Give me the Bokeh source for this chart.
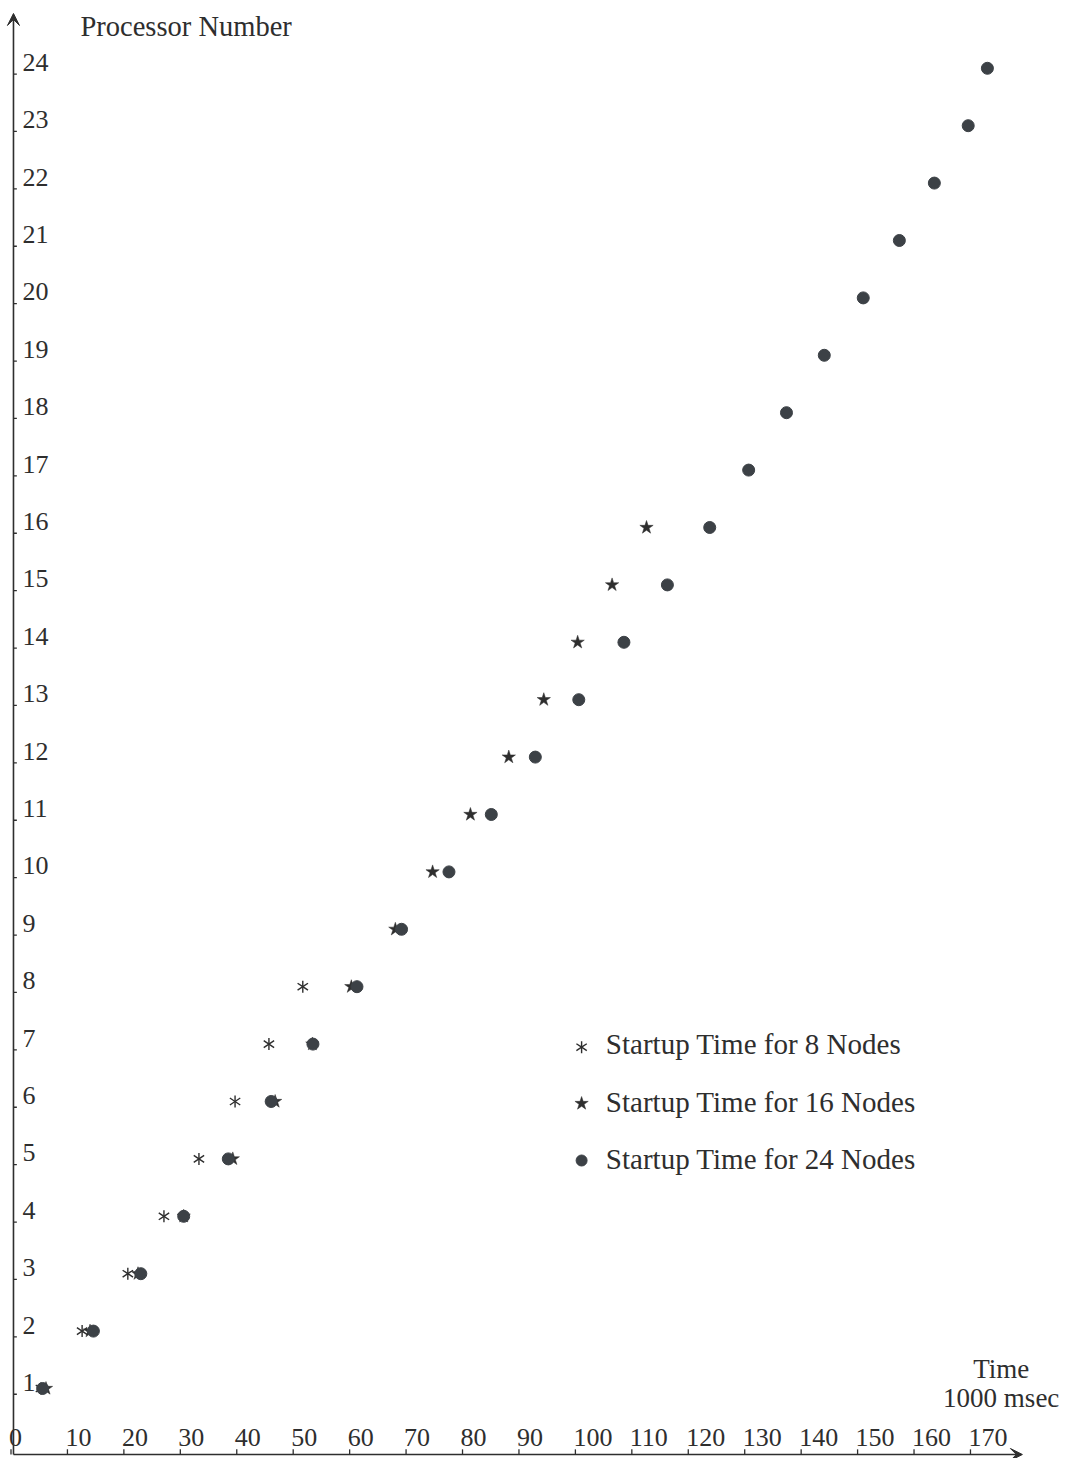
import numpy as np
from bokeh.plotting import figure
from bokeh.models import Range1d, Arrow, VeeHead
from bokeh.core.properties import value
from bokeh.embed import file_html
from bokeh.resources import INLINE

# ---- data (time in units of 1000 msec) ----
processors_8 = [1, 2, 3, 4, 5, 6, 7, 8]
time_8 = [5.3, 12.6, 20.7, 27.1, 33.3, 39.7, 45.7, 51.7]

processors_16 = [1, 2, 3, 4, 5, 6, 7, 8, 9, 10, 11, 12, 13, 14, 15, 16]
time_16 = [6.2, 14.0, 22.5, 30.6, 39.3, 46.8, 53.4, 60.3, 68.1, 74.7,
           81.4, 88.2, 94.4, 100.4, 106.5, 112.6]

processors_24 = [1, 2, 3, 4, 5, 6, 7, 8, 9, 10, 11, 12, 13, 14, 15, 16,
                 17, 18, 19, 20, 21, 22, 23, 24]
time_24 = [5.6, 14.6, 23.0, 30.6, 38.5, 46.1, 53.5, 61.3, 69.2, 77.6,
           85.1, 92.9, 100.6, 108.6, 116.3, 123.8, 130.7, 137.4, 144.1,
           151.0, 157.4, 163.6, 169.6, 173.0]

x_ticks = [0, 10, 20, 30, 40, 50, 60, 70, 80, 90, 100, 110, 120, 130, 140,
           150, 160, 170]
x_tick_labels = ["0", "10", "20", "30", "40", "50", "60", "70", "80", "90",
                 "100", "110", "120", "130", "140", "150", "160", "170"]
y_ticks = [1, 2, 3, 4, 5, 6, 7, 8, 9, 10, 11, 12, 13, 14, 15, 16, 17, 18,
           19, 20, 21, 22, 23, 24]
y_tick_labels = ["1", "2", "3", "4", "5", "6", "7", "8", "9", "10", "11",
                 "12", "13", "14", "15", "16", "17", "18", "19", "20", "21",
                 "22", "23", "24"]

series_labels = ["Startup Time for 8 Nodes", "Startup Time for 16 Nodes",
                 "Startup Time for 24 Nodes"]
y_axis_title = "Processor Number"
x_axis_title = ["Time", "1000 msec"]

# ---- styling / layout ----
INK = "#2e2e2e"
DOT = "#3c4146"
FONT = "Liberation Serif"

AX = 0.44     # x position of the vertical axis (data units)
AY = -0.15    # y position of the horizontal axis (data units)

# legend placement (data units)
LEG_X = 101.1
LEG_TEXT_X = 105.4
LEG_Y = [6.946, 5.965, 4.972]
LEG_TEXT_Y = [6.993, 5.999, 5.006]

p = figure(width=1064, height=1458,
           x_range=Range1d(-1.860, 186.66), y_range=Range1d(-0.2195, 25.181),
           output_backend="svg", toolbar_location=None,
           x_axis_type=None, y_axis_type=None, min_border=0,
           outline_line_color=None, background_fill_color="white",
           border_fill_color="white")

# axes with arrow heads
p.add_layout(Arrow(end=VeeHead(size=12, line_color=INK, fill_color=INK, line_width=1),
                   x_start=AX, y_start=AY, x_end=179.2, y_end=AY,
                   line_color=INK, line_width=1.6))
p.add_layout(Arrow(end=VeeHead(size=12, line_color=INK, fill_color=INK, line_width=1),
                   x_start=AX, y_start=AY, x_end=AX, y_end=24.955,
                   line_color=INK, line_width=1.6))

# tick marks
nx = len(x_ticks)
p.segment(x0=x_ticks, y0=[AY] * nx, x1=x_ticks, y1=[AY + 0.09] * nx,
          line_color=INK, line_width=1.3)
ny = len(y_ticks)
p.segment(x0=[AX] * ny, y0=[v - 0.1 for v in y_ticks],
          x1=[AX + 0.6] * ny, y1=[v - 0.1 for v in y_ticks],
          line_color=INK, line_width=1.3)

# tick labels
p.text(x=x_ticks, y=[0.152] * nx, text=x_tick_labels, text_align="left",
       text_baseline="middle", x_offset=-2,
       text_font=value(FONT), text_font_size="26px", text_color=INK)
p.text(x=[AX] * ny, y=y_ticks, text=y_tick_labels, text_align="left",
       text_baseline="middle", x_offset=9, y_offset=-6,
       text_font=value(FONT), text_font_size="26px", text_color=INK)

# axis titles
p.text(x=[12.31], y=[24.728], text=[y_axis_title], text_align="left",
       text_baseline="middle", text_font=value(FONT),
       text_font_size="28.5px", text_color=INK)
p.text(x=[175.45, 175.45], y=[1.348, 0.843], text=x_axis_title,
       text_align="center", text_baseline="middle",
       text_font=value(FONT), text_font_size="27px", text_color=INK)

# data series (asterisk = two rotated "y" markers -> six arms)
p.scatter(time_8, processors_8, marker="y", size=12, angle=0,
          line_color=INK, line_width=1.4)
p.scatter(time_8, processors_8, marker="y", size=12, angle=np.pi,
          line_color=INK, line_width=1.4)
p.scatter(time_16, processors_16, marker="star", size=14,
          fill_color=INK, line_color=INK, line_width=0.5)
p.scatter(time_24, processors_24, marker="circle", size=12,
          fill_color=DOT, line_color=DOT)

# legend (drawn in data space, as in the original figure)
p.scatter([LEG_X], [LEG_Y[0]], marker="y", size=12, angle=0,
          line_color=INK, line_width=1.4)
p.scatter([LEG_X], [LEG_Y[0]], marker="y", size=12, angle=np.pi,
          line_color=INK, line_width=1.4)
p.scatter([LEG_X], [LEG_Y[1]], marker="star", size=14,
          fill_color=INK, line_color=INK, line_width=0.5)
p.scatter([LEG_X], [LEG_Y[2]], marker="circle", size=11,
          fill_color=DOT, line_color=DOT)
p.text(x=[LEG_TEXT_X] * 3, y=LEG_TEXT_Y, text=series_labels,
       text_align="left", text_baseline="middle",
       text_font=value(FONT), text_font_size="29px", text_color=INK)

open("out.html", "w").write(file_html(p, INLINE))
